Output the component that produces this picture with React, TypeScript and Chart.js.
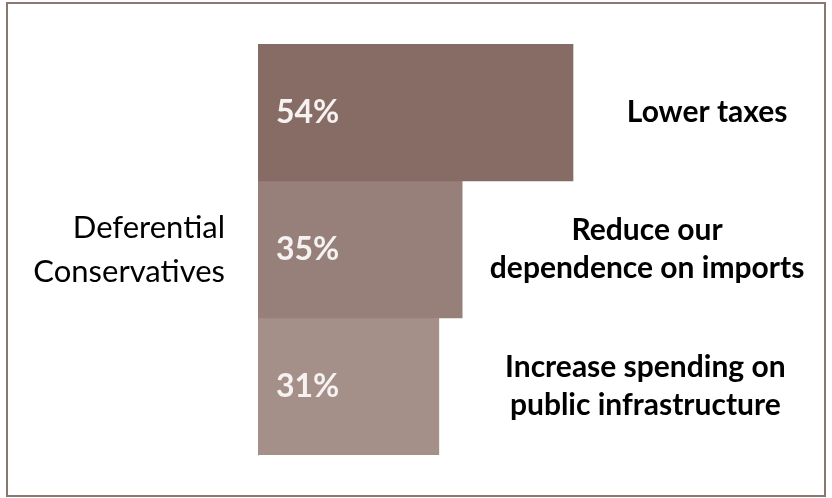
import React, { useEffect, useRef } from "react";
import { Chart, registerables } from "chart.js";

Chart.register(...registerables);

const categories = [["Deferential", "Conservatives"]];
const seriesNames = ["Lower taxes", "Reduce our dependence on imports", "Increase spending on public infrastructure"];
const seriesLabelLines = [["Lower taxes"], ["Reduce our", "dependence on imports"], ["Increase spending on", "public infrastructure"]];
const seriesValues = [54, 35, 31];
const valueLabels = ["54%", "35%", "31%"];
const labelAnchors = [77, 66.7, 66.4];
const seriesColors = ["#866C64", "#978079", "#A58F89"];

const FONT = "Lato, 'Open Sans', sans-serif";

const labelPlugin = {
  id: "customLabels",
  beforeDraw(chart: any) {
    const ctx = chart.ctx;
    ctx.save();
    ctx.fillStyle = "#ffffff";
    ctx.fillRect(0, 0, chart.width, chart.height);
    ctx.strokeStyle = "#8C7670";
    ctx.lineWidth = 2;
    ctx.strokeRect(7, 3, 818, 493);
    ctx.restore();
  },
  afterDatasetsDraw(chart: any) {
    const ctx = chart.ctx;
    const xs = chart.scales.x;
    const ys = chart.scales.y;
    ctx.save();
    // category labels
    ctx.font = `31px ${FONT}`;
    ctx.fillStyle = "#000000";
    ctx.textAlign = "right";
    ctx.textBaseline = "middle";
    categories.forEach((cat, ci) => {
      const cy = ys.getPixelForValue(ci);
      const clh = 44;
      cat.forEach((ln, j) => {
        ctx.fillText(ln, chart.chartArea.left - 33, cy + (j - (cat.length - 1) / 2) * clh);
      });
    });
    chart.data.datasets.forEach((ds: any, i: number) => {
      const el = chart.getDatasetMeta(i).data[0];
      if (!el) return;
      ctx.font = `bold 32px ${FONT}`;
      ctx.fillStyle = "#F5F2F1";
      ctx.textAlign = "left";
      ctx.textBaseline = "middle";
      ctx.fillText(valueLabels[i], el.base + 18, el.y);
      const lines = seriesLabelLines[i];
      const lh = 38;
      const cx = xs.getPixelForValue(labelAnchors[i]);
      ctx.font = `bold 30px ${FONT}`;
      ctx.fillStyle = "#000000";
      ctx.textAlign = "center";
      lines.forEach((ln, j) => {
        ctx.fillText(ln, cx, el.y + (j - (lines.length - 1) / 2) * lh);
      });
    });
    ctx.restore();
  },
};

export default function App() {
  const ref = useRef<HTMLCanvasElement>(null);
  useEffect(() => {
    if (!ref.current) return;
    const chart = new Chart(ref.current, {
      type: "bar",
      data: {
        labels: categories.map((c) => c.join(" ")),
        datasets: seriesNames.map((name, i) => ({
          label: name,
          data: [seriesValues[i]],
          backgroundColor: seriesColors[i],
          borderWidth: 0,
          categoryPercentage: 1,
          barPercentage: 1,
        })),
      },
      options: {
        indexAxis: "y",
        responsive: false,
        animation: false,
        layout: { padding: { left: 0, top: 44, bottom: 43, right: 49 } },
        plugins: { legend: { display: false }, tooltip: { enabled: false } },
        scales: {
          x: { display: false, min: 0, max: 90 },
          y: {
            afterFit: (s: any) => {
              s.width = 258;
            },
            grid: { display: false, drawTicks: false },
            border: { display: true, color: "#D4D4D4", width: 1 },
            ticks: { display: false },
          },
        },
      },
      plugins: [labelPlugin],
    });
    return () => chart.destroy();
  }, []);
  return (
    <canvas
      ref={ref}
      width={832}
      height={498}
      style={{ position: "absolute", left: 0, top: 0, width: 832, height: 498 }}
    />
  );
}
